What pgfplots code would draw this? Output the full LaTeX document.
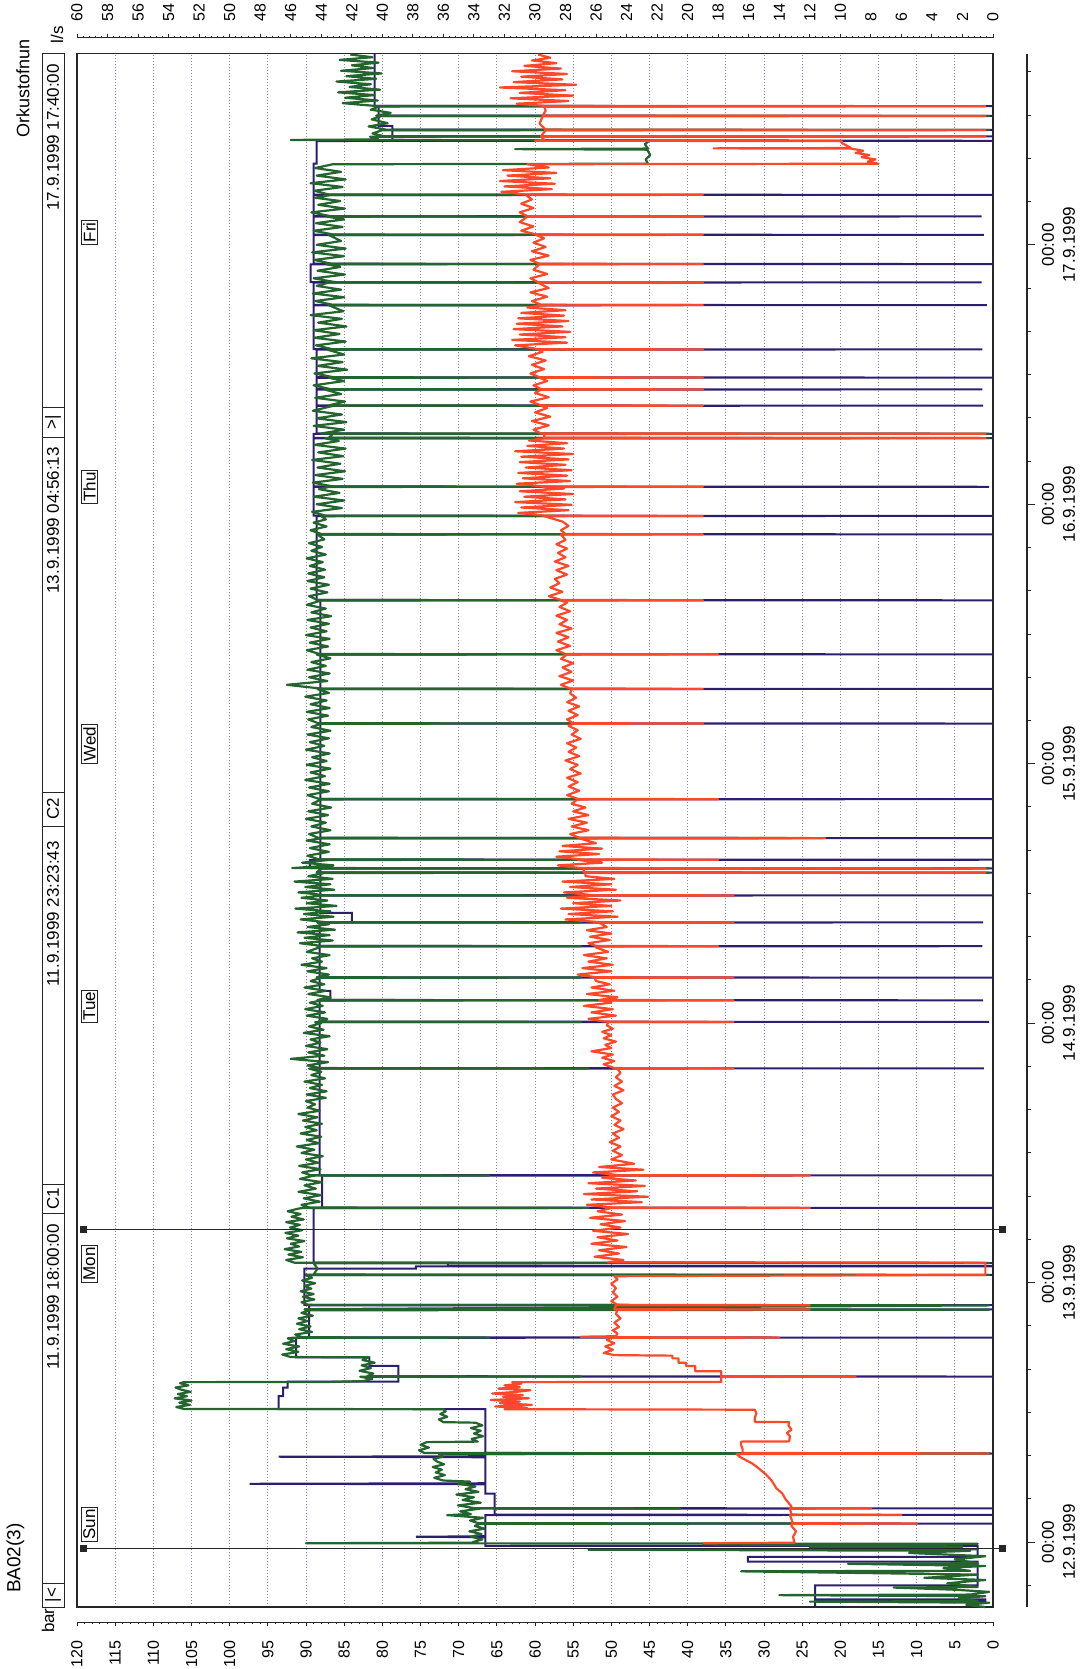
\documentclass[border=0pt]{standalone}
\usepackage{pgfplots}
\pgfplotsset{compat=1.18}
\usepackage{pgfplotstable}
\usepackage{fontspec}
\setmainfont{Liberation Sans}
\definecolor{navyc}{RGB}{46,30,112}
\definecolor{greenc}{RGB}{36,100,46}
\definecolor{redc}{RGB}{255,72,42}
\definecolor{gridc}{RGB}{150,130,160}
\newcommand{\lf}{\fontsize{8.5}{10.5}\selectfont}
\newcommand{\tf}{\fontsize{8}{9}\selectfont}

% navy: pressure set level (bar), t = hours from 12.9.1999 00:00
\pgfplotstableread[row sep=\\]{
t v\\
-6.0 23.3\\ -5.5 23.3\\ -5.5 1\\ -5.3 1\\ -5.3 23.3\\ -4.0 23.3\\ -4.0 2\\ -1.8 2\\ -1.8 32.1\\ -1.36 32.1\\ -1.36 2\\ -0.35 2\\ -0.35 66.5\\
0.45 66.5\\ 0.5 75.6\\ 0.55 66.5\\ 1.7 66.5\\ 1.72 0\\ 1.75 66.5\\ 2.5 66.5\\ 2.52 0\\ 2.55 65.3\\ 3.1 65.3\\ 3.12 0\\ 3.15 65.3\\ 4.5 65.3\\ 4.5 66.5\\
5.35 66.5\\ 5.4 97.4\\ 5.45 66.5\\ 7.85 66.5\\ 7.9 93.6\\ 7.95 66.5\\ 8.15 66.5\\ 8.2 0\\ 8.25 66.5\\ 12.3 66.5\\ 12.3 93.6\\ 13.5 93.6\\ 13.5 93.0\\
14.3 93.0\\ 14.3 92.4\\ 14.85 92.4\\ 14.85 77.9\\ 15.3 77.9\\ 15.32 0\\ 15.35 77.9\\ 16.3 77.9\\ 16.3 81.7\\ 17.1 81.7\\ 17.1 91.3\\ 18.9 91.3\\ 18.92 0\\
18.95 89.6\\ 21.5 89.6\\ 21.52 0\\ 21.55 89.6\\ 21.9 89.6\\ 21.92 0\\ 21.95 90.2\\ 24.7 90.2\\ 24.72 0\\ 24.75 90.2\\ 25.3 90.2\\ 25.3 75.6\\ 25.5 75.6\\
25.52 0\\ 25.55 71.4\\ 25.8 71.4\\ 25.82 0\\ 25.85 89.0\\ 30.9 89.0\\ 30.92 0\\ 30.95 87.9\\ 33.9 87.9\\ 33.92 0\\ 33.95 88.2\\ 43.8 88.2\\ 43.82 1.2\\
43.85 88.2\\ 48.1 88.2\\ 48.12 0.5\\ 48.15 88.2\\ 50.1 88.2\\ 50.12 1.3\\ 50.15 86.8\\ 51.0 86.8\\ 51.0 88.2\\ 52.2 88.2\\ 52.22 0\\ 52.25 88.2\\
55.1 88.2\\ 55.12 1.4\\ 55.15 88.2\\ 57.3 88.2\\ 57.32 1.3\\ 57.35 84.0\\ 58.2 84.0\\ 58.2 88.1\\ 59.8 88.1\\ 59.82 0\\ 59.85 88.1\\ 61.9 88.1\\ 61.92 0\\
61.95 88.1\\ 62.3 88.1\\ 62.32 0\\ 62.35 89.5\\ 63.1 89.5\\ 63.12 0\\ 63.15 88.1\\ 65.1 88.1\\ 65.12 0\\ 65.15 88.1\\ 68.7 88.1\\ 68.72 0\\ 68.75 88.1\\
75.7 88.1\\ 75.72 0\\ 75.75 88.1\\ 78.9 88.1\\ 78.92 0\\ 78.95 88.1\\ 82.1 88.1\\ 82.12 0\\ 82.15 88.1\\ 87.1 88.1\\ 87.12 0\\ 87.15 88.6\\ 93.2 88.6\\
93.22 0\\ 93.25 88.6\\ 94.9 88.6\\ 94.92 0\\ 94.95 89.0\\ 97.6 89.0\\ 97.62 0.5\\ 97.65 89.0\\ 102.1 89.0\\ 102.12 0\\ 102.15 89.0\\ 102.5 89.0\\
102.52 0\\ 102.55 88.6\\ 105.1 88.6\\ 105.12 1.3\\ 105.15 88.6\\ 106.6 88.6\\ 106.62 1.4\\ 106.65 88.6\\ 107.7 88.6\\ 107.72 0\\ 107.75 88.6\\
110.3 88.6\\ 110.32 1.4\\ 110.35 89.0\\ 114.4 89.0\\ 114.42 0.8\\ 114.45 89.0\\ 116.5 89.0\\ 116.52 1.5\\ 116.55 89.4\\ 118.2 89.4\\ 118.22 0\\
118.25 89.0\\ 120.9 89.0\\ 120.92 1.2\\ 120.95 89.0\\ 122.6 89.0\\ 122.62 1.5\\ 122.65 89.0\\ 124.6 89.0\\ 124.62 0\\ 124.65 89.0\\ 127.5 89.0\\
127.5 88.6\\ 129.6 88.6\\ 129.62 0\\ 129.7 78.7\\ 130.0 78.7\\ 130.02 0\\ 130.05 78.7\\ 130.6 78.7\\ 130.62 0\\ 130.65 78.7\\ 131.0 78.7\\ 131.0 80.5\\
131.9 80.5\\ 131.92 0\\ 131.95 80.5\\ 132.8 80.5\\ 132.82 0\\ 132.85 81.0\\ 137.667 81.0\\
}\navydata

% green: measured pressure (bar)
\pgfplotstableread[row sep=\\]{
t v\\
-6.0 1.0\\ -5.8 3.5\\ -5.6 0.5\\ -5.5 24\\ -5.45 2\\ -5.2 4.5\\ -5.0 1\\ -4.9 28\\ -4.85 3\\ -4.6 0.5\\ -4.4 5\\ -4.2 13\\ -4.15 2\\ -3.8 6\\ -3.5 1\\
-3.3 9\\ -3.0 2\\ -2.7 33\\ -2.65 3\\ -2.4 6.5\\ -2.2 1\\ -2.0 19\\ -1.95 2\\ -1.6 5\\ -1.3 1\\ -1.0 11\\ -0.8 3\\ -0.7 53\\ -0.65 2\\ -0.5 24\\ -0.4 4\\
-0.2 38\\ -0.15 2\\ -0.1 90\\ -0.05 67.5\\
0.0 68.2\\ 0.25 66.9\\ 0.5 68.4\\ 0.75 67.0\\ 1.0 68.6\\ 1.25 66.6\\ 1.5 67.9\\ 1.7 67.2\\ 1.72 20\\ 1.75 67.4\\ 2.0 68.5\\ 2.25 66.8\\ 2.5 71.5\\ 2.6 68.4\\
2.85 69.8\\ 3.1 67.2\\ 3.12 41\\ 3.15 68.0\\ 3.4 70.1\\ 3.65 67.1\\ 3.9 69.5\\ 4.15 68.0\\ 4.4 70.3\\ 4.65 67.4\\ 4.9 69.1\\ 5.15 67.8\\ 5.4 70.0\\ 5.6 68.5\\
5.7 72.0\\ 5.95 73.2\\ 6.2 71.8\\ 6.45 73.0\\ 6.7 72.2\\ 6.95 73.4\\ 7.2 71.9\\ 7.45 72.8\\ 7.7 73.3\\ 7.9 72.1\\ 8.15 72.6\\ 8.2 0.5\\ 8.25 74.5\\
8.5 75.2\\ 8.75 73.9\\ 9.0 75.0\\ 9.25 74.2\\ 9.3 67.5\\ 9.55 68.3\\ 9.8 66.8\\ 10.05 68.0\\ 10.3 67.1\\ 10.55 68.4\\ 10.8 66.9\\ 11.05 67.8\\ 11.1 72\\
11.35 72.6\\ 11.6 71.5\\ 11.85 72.4\\ 12.1 71.7\\ 12.3 72.0\\ 12.32 106\\
12.5 107.0\\ 12.7 105.2\\ 12.9 106.6\\ 13.1 105.0\\ 13.3 107.2\\ 13.5 105.6\\ 13.7 106.8\\ 13.9 105.1\\ 14.1 106.3\\ 14.3 107.1\\ 14.5 105.4\\ 14.7 106.5\\
14.8 106.0\\ 14.82 87\\ 14.9 82.5\\
15.1 81.3\\ 15.3 82.9\\ 15.32 54\\ 15.35 82.0\\ 15.6 81.2\\ 15.85 83.0\\ 16.1 81.5\\ 16.35 82.7\\ 16.6 81.0\\ 16.85 82.6\\ 17.1 81.8\\ 17.12 92\\
17.35 93.1\\ 17.6 91.0\\ 17.85 92.6\\ 18.1 90.9\\ 18.35 93.0\\ 18.6 91.5\\ 18.85 92.4\\ 18.9 91.8\\ 18.92 66\\ 18.95 90.5\\
19.2 91.4\\ 19.45 89.2\\ 19.7 90.9\\ 19.95 89.4\\ 20.2 91.2\\ 20.45 89.8\\ 20.7 91.0\\ 20.95 89.1\\ 21.2 90.6\\ 21.45 89.5\\ 21.5 0.5\\ 21.55 90.2\\
21.9 0.5\\ 21.95 89.7\\
22.2 90.6\\ 22.45 88.9\\ 22.7 90.4\\ 22.95 89.0\\ 23.2 90.7\\ 23.45 89.3\\ 23.7 90.2\\ 23.95 88.8\\ 24.2 90.5\\ 24.45 89.2\\ 24.7 90.0\\ 24.72 0.5\\
24.75 89.0\\ 25.3 88.5\\ 25.8 89.0\\ 25.82 0.5\\ 25.85 91.5\\
26.1 92.6\\ 26.35 90.4\\ 26.6 92.3\\ 26.85 90.6\\ 27.1 92.8\\ 27.35 90.9\\ 27.6 92.0\\ 27.85 90.2\\ 28.1 92.5\\ 28.35 91.0\\ 28.6 92.7\\ 28.85 90.5\\
29.1 92.1\\ 29.35 90.8\\ 29.6 92.6\\ 29.85 90.3\\ 30.1 91.9\\ 30.35 90.7\\ 30.6 92.4\\ 30.85 91.0\\ 30.9 90.5\\ 30.92 53\\ 30.95 89.5\\
31.2 90.6\\ 31.5 88.2\\ 31.8 90.3\\ 32.1 88.0\\ 32.4 91.0\\ 32.7 88.7\\ 33.0 90.2\\ 33.3 87.9\\ 33.6 90.8\\ 33.9 89.0\\ 33.92 66\\ 33.95 89.4\\
34.2 90.5\\ 34.5 88.1\\ 34.8 90.9\\ 35.1 88.4\\ 35.4 90.0\\ 35.7 87.8\\ 36.0 90.6\\ 36.3 88.9\\ 36.6 91.2\\ 36.9 88.3\\ 37.2 89.9\\ 37.5 88.0\\
37.8 90.7\\ 38.1 88.6\\ 38.4 90.1\\ 38.7 87.9\\ 39.0 90.4\\ 39.3 88.5\\ 39.6 91.0\\ 39.9 88.2\\ 40.2 89.8\\ 40.5 88.8\\
40.8 90.0\\ 41.1 87.4\\ 41.4 89.9\\ 41.7 87.3\\ 42.0 89.5\\ 42.3 87.9\\ 42.6 90.2\\ 42.9 87.5\\ 43.2 89.3\\ 43.5 88.0\\ 43.8 89.6\\ 43.82 53\\
43.85 88.2\\ 44.1 89.8\\ 44.4 87.1\\ 44.7 92.0\\ 45.0 87.6\\ 45.3 89.7\\ 45.6 87.2\\ 45.9 90.0\\ 46.2 88.1\\ 46.5 89.4\\ 46.8 86.9\\ 47.1 90.3\\
47.4 87.7\\ 47.7 89.6\\ 48.0 88.0\\ 48.1 88.8\\ 48.12 54\\ 48.15 88.4\\ 48.4 87.2\\ 48.7 89.9\\ 49.0 87.5\\ 49.3 90.1\\ 49.6 87.8\\ 49.9 89.5\\
50.1 88.0\\ 50.12 51\\ 50.15 88.5\\ 50.4 86.8\\ 50.7 89.7\\ 51.0 87.4\\ 51.3 90.2\\ 51.6 87.6\\ 51.9 89.4\\ 52.2 88.0\\ 52.22 54\\ 52.25 88.6\\
52.5 87.0\\ 52.8 89.8\\ 53.1 87.3\\ 53.4 90.6\\ 53.7 87.9\\ 54.0 89.2\\ 54.3 86.9\\ 54.6 89.9\\ 55.0 88.3\\ 55.1 88.5\\ 55.12 54\\ 55.15 88.0\\
55.4 90.8\\ 55.65 86.5\\ 55.9 90.2\\ 56.15 86.9\\ 56.4 91.1\\ 56.65 86.2\\ 56.9 89.8\\ 57.15 87.0\\ 57.3 88.5\\ 57.32 54\\ 57.35 87.5\\ 57.6 90.7\\
57.85 86.4\\ 58.1 90.3\\ 58.35 86.8\\ 58.6 91.4\\ 58.85 86.0\\ 59.1 89.9\\ 59.35 87.2\\ 59.6 90.6\\ 59.8 88.0\\ 59.82 54\\ 59.85 87.6\\ 60.1 91.0\\
60.35 86.3\\ 60.6 90.1\\ 60.85 86.8\\ 61.1 91.5\\ 61.35 86.5\\ 61.6 89.7\\ 61.9 87.5\\ 61.92 0.5\\ 61.95 88.6\\ 62.3 88.0\\ 62.32 0.5\\ 62.35 91.8\\
62.6 86.4\\ 62.85 90.5\\ 63.1 87.0\\ 63.12 54\\ 63.15 88.3\\
63.5 89.8\\ 63.85 87.0\\ 64.2 89.5\\ 64.55 86.9\\ 64.9 89.9\\ 65.1 88.0\\ 65.12 22.5\\ 65.15 88.4\\ 65.5 89.6\\ 65.85 86.8\\ 66.2 89.3\\ 66.55 87.4\\
66.9 90.0\\ 67.25 87.1\\ 67.6 89.7\\ 67.95 86.7\\ 68.3 89.2\\ 68.7 88.0\\ 68.72 54\\ 68.75 88.3\\ 69.1 89.8\\ 69.45 87.0\\ 69.8 89.6\\ 70.15 86.9\\
70.5 90.1\\ 70.85 87.5\\ 71.2 89.4\\ 71.55 86.8\\ 71.9 89.9\\ 72.25 87.3\\ 72.6 89.2\\ 72.95 86.9\\ 73.3 90.0\\ 73.65 87.6\\ 74.0 89.5\\ 74.35 87.0\\
74.7 89.8\\ 75.05 86.8\\ 75.4 89.3\\ 75.7 88.0\\ 75.72 54\\ 75.75 88.4\\ 76.1 89.7\\ 76.45 87.1\\ 76.8 89.9\\ 77.15 86.9\\ 77.5 89.4\\ 77.85 87.3\\
78.2 90.1\\ 78.55 87.0\\ 78.9 88.5\\ 78.92 55\\ 78.95 88.0\\ 79.3 92.5\\ 79.65 87.2\\ 80.0 89.6\\ 80.35 86.9\\ 80.7 89.8\\ 81.05 87.4\\ 81.4 89.3\\
81.75 86.8\\ 82.1 88.6\\ 82.12 54\\ 82.15 88.2\\ 82.5 89.9\\ 82.85 87.1\\ 83.2 89.5\\ 83.55 86.9\\ 83.9 90.0\\ 84.25 87.3\\ 84.6 89.4\\ 84.95 87.0\\
85.3 89.8\\ 85.65 86.7\\ 86.0 89.3\\ 86.35 87.4\\ 86.7 89.9\\ 87.1 88.0\\ 87.12 57\\ 87.15 88.5\\ 87.5 89.6\\ 87.85 87.2\\ 88.2 89.4\\ 88.55 87.0\\
88.9 89.8\\ 89.25 87.6\\ 89.6 89.7\\ 89.95 87.5\\ 90.3 89.5\\ 90.65 87.8\\ 91.0 89.9\\ 91.35 87.4\\ 91.7 89.3\\ 92.05 87.9\\ 92.4 89.6\\ 92.75 87.6\\
93.2 88.5\\ 93.22 56\\ 93.25 88.0\\ 93.6 89.4\\ 93.95 87.3\\ 94.3 89.0\\ 94.6 87.4\\ 94.9 88.0\\ 94.92 56\\ 94.95 87.5\\
95.3 89.2\\ 95.65 85.3\\ 96.0 88.6\\ 96.35 85.0\\ 96.7 89.0\\ 97.05 85.6\\ 97.4 88.3\\ 97.6 87.0\\ 97.62 58\\ 97.65 86.5\\ 98.0 89.1\\ 98.35 85.2\\
98.7 88.8\\ 99.05 84.9\\ 99.4 88.5\\ 99.75 85.5\\ 100.1 89.2\\ 100.45 85.1\\ 100.8 88.4\\ 101.15 84.8\\ 101.5 88.9\\ 101.85 85.7\\ 102.1 87.5\\
102.12 0.5\\ 102.15 87.0\\ 102.5 86.5\\ 102.52 0.5\\ 102.55 88.0\\ 102.9 85.0\\ 103.25 89.0\\ 103.6 84.7\\ 103.95 88.6\\ 104.3 85.3\\ 104.65 89.1\\
105.1 86.5\\ 105.12 56\\ 105.15 87.0\\ 105.5 84.9\\ 105.85 88.8\\ 106.2 85.4\\ 106.6 87.5\\ 106.62 56\\ 106.65 86.8\\ 107.0 89.0\\ 107.4 85.0\\
107.7 87.0\\ 107.72 56\\ 107.75 86.4\\ 108.1 88.9\\ 108.45 84.6\\ 108.8 88.5\\ 109.15 85.2\\ 109.5 89.3\\ 109.85 85.0\\ 110.3 87.2\\ 110.32 56\\
110.35 86.6\\ 110.7 88.7\\ 111.05 84.8\\ 111.4 88.9\\ 111.75 85.6\\ 112.1 89.0\\ 112.45 84.7\\ 112.8 88.4\\ 113.15 85.3\\ 113.5 89.4\\ 113.85 85.1\\
114.4 87.0\\ 114.42 55\\ 114.45 86.5\\ 114.8 88.8\\ 115.15 85.0\\ 115.5 89.1\\ 115.85 85.4\\ 116.2 88.6\\ 116.5 87.0\\ 116.52 56\\ 116.55 86.2\\
116.9 89.0\\ 117.25 84.9\\ 117.6 88.5\\ 117.95 85.5\\ 118.2 87.3\\ 118.22 56\\ 118.25 86.7\\ 118.6 88.9\\ 118.95 85.0\\ 119.3 89.2\\ 119.65 84.8\\
120.0 88.6\\ 120.35 85.4\\ 120.9 87.0\\ 120.92 56\\ 120.95 86.4\\ 121.3 89.0\\ 121.65 85.2\\ 122.0 88.7\\ 122.35 85.0\\ 122.6 87.2\\ 122.62 56\\
122.65 86.8\\ 123.0 89.3\\ 123.35 84.9\\ 123.7 88.4\\ 124.05 85.5\\ 124.35 88.8\\ 124.6 86.8\\ 124.62 56\\ 124.65 87.0\\ 125.0 88.9\\ 125.35 85.2\\
125.7 89.4\\ 126.05 84.8\\ 126.4 88.6\\ 126.75 85.4\\ 127.1 88.8\\ 127.45 86.5\\ 127.5 45.2\\
127.9 45.5\\ 128.3 44.9\\ 128.8 45.3\\ 128.85 62.6\\ 128.9 45.2\\ 129.3 45.6\\ 129.65 45.0\\ 129.7 92\\ 129.75 80.5\\
130.0 81.6\\ 130.02 30\\ 130.05 79.8\\ 130.3 81.3\\ 130.6 80.0\\ 130.62 0.5\\ 130.65 79.5\\ 130.95 81.8\\ 131.25 79.3\\ 131.6 81.4\\ 131.9 80.2\\
131.92 0.5\\ 131.95 80.8\\ 132.2 78.9\\ 132.5 81.5\\ 132.8 80.4\\ 132.82 40\\ 132.85 81.0\\
133.1 85.2\\ 133.35 80.6\\ 133.6 84.9\\ 133.85 81.0\\ 134.1 85.8\\ 134.35 80.3\\ 134.6 84.3\\ 134.85 81.5\\ 135.1 86.0\\ 135.35 80.8\\ 135.6 84.7\\
135.85 80.1\\ 136.1 85.4\\ 136.35 81.2\\ 136.6 84.0\\ 136.85 80.5\\ 137.1 85.6\\ 137.35 81.3\\ 137.6 84.2\\
}\greendata

% red: flow (l/s)
\pgfplotstableread[row sep=\\]{
t v\\
-0.1 19\\ -0.05 13.0\\ 0.5 13.1\\ 1.0 12.9\\ 1.5 13.2\\ 1.7 13.2\\ 1.72 5\\ 1.75 13.1\\ 2.5 13.3\\ 2.52 6\\ 2.55 13.2\\ 3.1 13.3\\ 3.12 8\\ 3.15 13.3\\
3.3 13.2\\ 4.0 13.6\\ 4.5 13.8\\ 5.0 14.2\\ 5.7 14.5\\ 6.3 14.9\\ 7.0 15.5\\ 7.3 15.8\\ 7.6 16.2\\ 7.9 16.6\\ 8.15 16.8\\ 8.2 0.3\\ 8.25 16.4\\
8.6 16.4\\ 9.0 16.5\\ 9.3 16.5\\ 9.32 13.35\\ 9.8 13.3\\ 10.1 13.5\\ 10.4 13.2\\ 10.8 13.4\\ 11.1 13.35\\ 11.12 15.6\\ 11.5 15.6\\ 11.9 15.5\\
12.25 15.6\\ 12.3 32\\
12.4 30.5\\ 12.55 32.6\\ 12.7 30.2\\ 12.85 32.3\\ 13.0 31.0\\ 13.15 32.9\\ 13.3 30.4\\ 13.45 32.1\\ 13.6 30.8\\ 13.75 32.8\\ 13.9 31.2\\ 14.05 30.3\\
14.2 32.4\\ 14.35 31.0\\ 14.5 32.0\\ 14.65 30.9\\ 14.8 31.5\\ 14.82 17.8\\ 15.3 17.8\\ 15.32 9\\ 15.35 17.8\\ 15.8 17.8\\ 15.8 19.5\\ 16.3 19.5\\
16.3 20.1\\ 16.6 20.1\\ 16.6 20.6\\ 17.0 20.6\\ 17.0 21.0\\ 17.25 21.0\\ 17.3 24.8\\
17.5 25.5\\ 17.8 24.9\\ 18.1 25.4\\ 18.4 24.8\\ 18.7 25.3\\ 18.9 25.0\\ 18.92 14\\ 18.95 25.0\\ 19.0 27\\ 19.05 24.7\\ 19.3 24.6\\ 19.6 24.9\\
19.9 24.5\\ 20.3 24.8\\ 20.7 24.4\\ 21.1 24.7\\ 21.5 24.6\\ 21.52 12\\ 21.55 24.8\\ 21.9 24.7\\ 21.92 12\\ 21.95 24.6\\ 22.3 25.0\\ 22.7 24.6\\
23.1 24.9\\ 23.5 24.7\\ 23.9 25.0\\ 24.3 24.6\\ 24.6 24.8\\ 24.72 0.5\\ 25.85 0.5\\ 25.9 25.2\\
26.1 24.2\\ 26.4 26.1\\ 26.7 24.5\\ 27.0 25.8\\ 27.3 24.0\\ 27.6 26.3\\ 27.9 24.6\\ 28.2 25.9\\ 28.5 23.9\\ 28.8 26.2\\ 29.1 24.4\\ 29.4 25.7\\
29.7 24.1\\ 30.0 26.4\\ 30.3 24.3\\ 30.6 25.9\\ 30.9 25.0\\ 30.92 12\\ 30.95 25.0\\
31.2 26.6\\ 31.45 23.0\\ 31.7 26.3\\ 31.95 22.6\\ 32.2 26.8\\ 32.45 23.3\\ 32.7 26.0\\ 32.95 22.8\\ 33.2 26.5\\ 33.45 23.4\\ 33.7 25.6\\ 33.9 24.6\\
33.92 12\\ 33.95 24.5\\ 34.2 26.2\\ 34.45 22.9\\ 34.7 25.8\\ 35.0 23.5\\
35.4 25.0\\ 35.8 24.3\\ 36.2 24.9\\ 36.6 24.4\\ 37.0 25.1\\ 37.4 24.5\\ 37.8 24.9\\ 38.2 24.2\\ 38.6 24.8\\ 39.0 24.4\\ 39.4 25.0\\ 39.8 24.5\\
40.2 24.9\\ 40.6 24.3\\ 41.0 24.7\\ 41.4 24.9\\ 41.8 24.2\\ 42.2 24.8\\ 42.6 24.3\\ 43.0 24.7\\ 43.4 24.4\\ 43.8 24.6\\ 43.82 17\\ 43.85 24.8\\
44.2 25.5\\ 44.5 24.8\\ 44.8 25.6\\ 45.1 24.9\\ 45.4 26.3\\ 45.7 25.0\\ 46.0 25.4\\ 46.3 24.7\\ 46.6 25.5\\ 46.9 25.0\\ 47.2 25.6\\ 47.5 24.9\\
47.8 25.3\\ 48.1 25.2\\ 48.12 17\\ 48.15 25.4\\ 48.4 26.5\\ 48.7 24.7\\ 49.0 26.3\\ 49.3 24.9\\ 49.6 26.8\\ 49.9 25.0\\ 50.1 25.6\\ 50.12 17\\
50.15 25.8\\ 50.4 24.6\\ 50.7 26.6\\ 51.0 24.8\\ 51.3 26.3\\ 51.6 25.1\\ 51.9 26.0\\ 52.2 26.1\\ 52.22 17\\ 52.25 26.0\\ 52.5 27.2\\ 52.8 25.0\\
53.1 26.9\\ 53.4 24.9\\ 53.7 26.5\\ 54.0 25.3\\ 54.3 26.8\\ 54.6 25.2\\ 55.0 26.0\\ 55.1 26.0\\ 55.12 18\\ 55.15 26.0\\ 55.4 26.5\\ 55.7 25.1\\
56.0 26.4\\ 56.3 25.0\\ 56.6 26.6\\ 56.9 25.3\\ 57.3 25.8\\ 57.32 17\\ 57.35 25.8\\ 57.6 28.0\\ 57.85 24.6\\ 58.1 27.8\\ 58.35 24.9\\ 58.6 28.3\\
58.85 25.0\\ 59.1 27.5\\ 59.35 24.4\\ 59.6 27.9\\ 59.8 26.3\\ 59.82 17\\ 59.85 26.2\\ 60.1 28.1\\ 60.35 24.7\\ 60.6 27.7\\ 60.85 25.0\\ 61.1 28.2\\
61.35 24.8\\ 61.6 26.7\\ 61.9 26.7\\ 61.92 0.5\\ 61.95 26.8\\ 62.3 26.8\\ 62.32 0.5\\ 62.35 27.0\\ 62.6 28.5\\ 62.85 25.6\\ 63.1 27.2\\ 63.12 18\\
63.15 27.0\\ 63.4 28.6\\ 63.65 25.8\\ 63.9 28.4\\ 64.15 25.6\\ 64.4 28.2\\ 64.65 26.0\\ 65.1 27.1\\ 65.12 11\\ 65.15 27.1\\ 65.5 27.7\\ 65.85 26.5\\
66.2 27.6\\ 66.55 26.6\\ 66.9 27.8\\ 67.25 26.5\\ 67.6 27.5\\ 67.95 26.7\\ 68.3 27.6\\ 68.7 27.2\\ 68.72 18\\ 68.75 27.2\\ 69.1 27.9\\ 69.5 27.1\\
69.9 27.8\\ 70.3 27.2\\ 70.7 27.9\\ 71.1 27.0\\ 71.5 27.7\\ 71.9 27.2\\ 72.3 28.0\\ 72.7 27.1\\ 73.1 27.8\\ 73.5 27.3\\ 73.9 27.9\\ 74.3 27.0\\
74.7 27.6\\ 75.1 27.2\\ 75.5 27.8\\ 75.7 27.5\\ 75.72 19\\ 75.75 27.5\\ 76.1 27.9\\ 76.5 27.2\\ 76.9 27.8\\ 77.3 27.1\\ 77.7 27.9\\ 78.1 27.3\\
78.5 27.7\\ 78.9 27.6\\ 78.92 19\\ 78.95 27.7\\ 79.3 28.3\\ 79.7 27.5\\ 80.1 28.4\\ 80.5 27.6\\ 80.9 28.2\\ 81.3 27.5\\ 81.7 28.3\\ 82.1 27.9\\
82.12 18\\ 82.15 28.0\\ 82.5 28.6\\ 82.9 27.7\\ 83.3 28.5\\ 83.7 27.8\\ 84.1 28.6\\ 84.5 27.6\\ 84.9 28.4\\ 85.3 27.9\\ 85.7 28.6\\ 86.1 27.7\\
86.5 28.4\\ 86.9 27.9\\ 87.1 28.3\\ 87.12 19\\ 87.15 28.3\\ 87.5 29.1\\ 87.9 28.2\\ 88.3 29.0\\ 88.7 28.4\\ 89.1 28.7\\ 89.5 27.9\\ 89.9 28.6\\
90.3 27.8\\ 90.7 28.7\\ 91.1 28.0\\ 91.5 28.5\\ 91.9 27.9\\ 92.3 28.6\\ 92.7 28.0\\ 93.2 28.3\\ 93.22 19\\ 93.25 28.0\\ 93.6 28.3\\ 94.0 27.8\\
94.4 28.2\\ 94.9 29.4\\ 94.92 19\\ 94.95 29.4\\ 95.2 31.1\\ 95.45 27.8\\ 95.7 30.9\\ 95.95 27.6\\ 96.2 31.3\\ 96.45 28.0\\ 96.7 30.7\\ 96.95 27.5\\
97.2 31.0\\ 97.45 28.1\\ 97.6 29.5\\ 97.62 19\\ 97.65 29.5\\ 97.9 31.2\\ 98.15 27.7\\ 98.4 30.8\\ 98.65 27.9\\ 98.9 31.1\\ 99.15 27.6\\ 99.4 30.6\\
99.65 28.0\\ 99.9 31.0\\ 100.15 27.8\\ 100.4 30.9\\ 100.65 27.5\\ 100.9 31.3\\ 101.15 28.1\\ 101.4 30.5\\ 101.65 27.9\\ 101.9 30.4\\ 102.1 29.4\\
102.12 0.5\\ 102.15 29.4\\ 102.5 29.4\\ 102.52 0.5\\ 102.55 29.6\\ 102.9 30.1\\ 103.3 29.1\\ 103.7 30.2\\ 104.1 29.0\\ 104.5 30.0\\ 104.9 29.2\\
105.1 29.6\\ 105.12 19\\ 105.15 29.6\\ 105.5 30.3\\ 105.9 29.1\\ 106.3 30.0\\ 106.6 29.6\\ 106.62 19\\ 106.65 29.6\\ 107.0 30.1\\ 107.4 29.2\\
107.7 29.7\\ 107.72 19\\ 107.75 29.7\\ 108.1 30.3\\ 108.5 29.4\\ 108.9 30.2\\ 109.3 29.3\\ 109.7 30.4\\ 110.1 29.5\\ 110.3 29.8\\ 110.32 19\\
110.35 29.8\\ 110.7 31.3\\ 110.95 27.9\\ 111.2 31.5\\ 111.45 28.0\\ 111.7 31.0\\ 111.95 27.7\\ 112.2 31.4\\ 112.45 28.2\\ 112.7 31.2\\ 112.95 27.8\\
113.2 31.1\\ 113.45 28.1\\ 113.7 30.9\\ 113.95 28.0\\ 114.2 30.5\\ 114.4 29.6\\ 114.42 19\\ 114.45 29.6\\ 114.8 30.2\\ 115.2 29.2\\ 115.6 30.3\\
116.0 29.1\\ 116.5 29.8\\ 116.52 19\\ 116.55 29.8\\ 116.9 30.3\\ 117.3 29.2\\ 117.7 30.1\\ 118.2 29.7\\ 118.22 19\\ 118.25 29.7\\ 118.6 30.3\\
119.0 29.1\\ 119.4 30.2\\ 119.8 29.3\\ 120.2 30.1\\ 120.6 29.4\\ 120.9 29.9\\ 120.92 19\\ 120.95 29.9\\ 121.3 30.9\\ 121.7 30.1\\ 122.1 31.0\\
122.6 30.5\\ 122.62 19\\ 122.65 30.5\\ 123.0 31.0\\ 123.4 30.1\\ 123.8 30.9\\ 124.2 30.2\\ 124.6 30.6\\ 124.62 19\\ 124.65 30.6\\ 124.9 32.2\\
125.15 28.9\\ 125.4 32.0\\ 125.65 28.7\\ 125.9 32.3\\ 126.15 29.0\\ 126.4 31.8\\ 126.65 28.6\\ 126.9 32.1\\ 127.15 29.1\\ 127.45 30.5\\ 127.5 7.5\\
127.7 8.2\\ 127.9 7.7\\ 128.1 8.6\\ 128.3 8.1\\ 128.5 9.0\\ 128.7 8.5\\ 128.9 9.3\\ 128.92 18.3\\ 128.95 9.3\\ 129.2 9.6\\ 129.4 9.9\\ 129.6 9.9\\
129.62 30\\ 129.7 29.4\\ 130.0 29.6\\ 130.02 0.5\\ 130.05 29.6\\ 130.6 29.3\\ 130.62 0.5\\ 130.65 29.3\\ 131.2 29.7\\ 131.9 29.5\\ 131.92 0.5\\
131.95 29.5\\ 132.4 29.3\\ 132.8 29.4\\ 132.82 0.5\\ 132.85 29.4\\ 133.05 31.2\\ 133.3 27.8\\ 133.55 31.6\\ 133.8 27.5\\ 134.05 31.0\\ 134.3 28.0\\
134.55 32.3\\ 134.8 27.3\\ 135.05 31.4\\ 135.3 28.2\\ 135.55 30.9\\ 135.8 27.9\\ 136.05 31.5\\ 136.3 28.3\\ 136.55 30.7\\ 136.8 28.6\\ 137.05 30.2\\
137.3 29.0\\ 137.6 29.8\\
}\reddata

\begin{document}
\begin{tikzpicture}
\path[use as bounding box] (0pt,0pt) rectangle (542pt,-834.5pt);

% main axis (bar)
\begin{axis}[
  at={(38.5pt,-803.5pt)}, anchor=south west,
  scale only axis, width=458pt, height=776.6pt,
  xmin=0, xmax=120, x dir=reverse,
  ymin=-6, ymax=137.667,
  xtick={5,10,...,115}, xticklabels={}, major tick length=0pt,
  ytick=\empty,
  xmajorgrids, grid style={gridc, line width=0.45pt, dash pattern=on 0.5pt off 1pt},
  axis line style={black!85, line width=0.6pt},
  clip=false,
]
\addplot[navyc, line width=1.0pt] table[x=v, y=t] {\navydata};
\addplot[greenc, line width=1.1pt, line join=round] table[x=v, y=t] {\greendata};
\addplot[black!85, line width=0.5pt, mark=square*, mark size=1.5pt, mark options={fill=black!85}] coordinates {(119.1,-0.605) (-1.3,-0.605)};
\addplot[black!85, line width=0.5pt, mark=square*, mark size=1.5pt, mark options={fill=black!85}] coordinates {(119.1,28.937) (-1.3,28.937)};
\foreach \d/\n in {0/Sun,24/Mon,48/Tue,72/Wed,96/Thu,120/Fri}{
  \edef\temp{\noexpand\node[rotate=90, anchor=north west, draw=black!85, line width=0.5pt, inner sep=1pt, font=\noexpand\lf] at (axis cs:119.5,\d) {\n};}
  \temp
}
\end{axis}

% red (l/s) on the same frame
\begin{axis}[
  at={(38.5pt,-803.5pt)}, anchor=south west,
  scale only axis, width=458pt, height=776.6pt,
  xmin=0, xmax=60, x dir=reverse,
  ymin=-6, ymax=137.667,
  hide axis, clip=false,
]
\addplot[redc, line width=1.1pt, line join=round] table[x=v, y=t] {\reddata};
\end{axis}

% bar ruler (bottom)
\begin{axis}[
  at={(38.5pt,-811pt)}, anchor=south west,
  scale only axis, width=458pt, height=10pt,
  xmin=0, xmax=120, x dir=reverse, ymin=0, ymax=1,
  axis x line=bottom, axis y line=none,
  axis line style={-, black!85, line width=0.5pt},
  xtick={0,5,...,120}, minor x tick num=4,
  tick align=outside, major tick length=2.2pt, minor tick length=1.2pt,
  tick style={black!85, line width=0.45pt},
  /pgf/number format/assume math mode=true,
  xticklabel style={rotate=90, anchor=east, font=\tf},
  xticklabel shift=3.5pt,
]
\end{axis}

% l/s ruler (top)
\begin{axis}[
  at={(38.5pt,-19pt)}, anchor=north west,
  scale only axis, width=458pt, height=10pt,
  xmin=0, xmax=60, x dir=reverse, ymin=0, ymax=1,
  axis x line=top, axis y line=none,
  axis line style={-, black!85, line width=0.5pt},
  xtick={0,2,...,60}, minor x tick num=4,
  tick align=outside, major tick length=2.2pt, minor tick length=1.2pt,
  tick style={black!85, line width=0.45pt},
  /pgf/number format/assume math mode=true,
  xticklabel style={rotate=90, anchor=west, font=\tf},
  xticklabel shift=2.5pt,
]
\end{axis}

% time ruler (right)
\begin{axis}[
  at={(513.5pt,-803.5pt)}, anchor=south east,
  scale only axis, width=10pt, height=776.6pt,
  xmin=0, xmax=1, ymin=-6, ymax=137.667,
  axis y line=right, axis x line=none,
  axis line style={-, black!85, line width=0.6pt},
  ytick={0,24,48,72,96,120},
  minor ytick={-4,0,...,136},
  yticklabels={{00:00\\12.9.1999},{00:00\\13.9.1999},{00:00\\14.9.1999},{00:00\\15.9.1999},{00:00\\16.9.1999},{00:00\\17.9.1999}},
  tick align=outside, major tick length=4pt, minor tick length=2.2pt,
  tick style={black!85, line width=0.5pt},
  yticklabel style={rotate=90, anchor=north, align=center, font=\lf},
]
\end{axis}

% header strip
\draw[black!85, line width=0.5pt] (21pt,-27pt) rectangle (32pt,-803.5pt);
\draw[black!85, line width=0.5pt] (21pt,-203.5pt) -- (32pt,-203.5pt) (21pt,-218.5pt) -- (32pt,-218.5pt);
\draw[black!85, line width=0.5pt] (21pt,-396pt) -- (32pt,-396pt) (21pt,-413pt) -- (32pt,-413pt);
\draw[black!85, line width=0.5pt] (21pt,-592pt) -- (32pt,-592pt) (21pt,-606.5pt) -- (32pt,-606.5pt);
\draw[black!85, line width=0.5pt] (21pt,-791.5pt) -- (32pt,-791.5pt);
\node[rotate=90, font=\lf] at (26.5pt,-211pt) {>|};
\node[rotate=90, font=\lf] at (26.5pt,-404.5pt) {C2};
\node[rotate=90, font=\lf] at (26.5pt,-599.3pt) {C1};
\node[rotate=90, font=\lf] at (26.5pt,-797.5pt) {|<};
\node[rotate=90, anchor=east, font=\lf] at (26.5pt,-28.5pt) {17.9.1999 17:40:00};
\node[rotate=90, anchor=east, font=\lf] at (26.5pt,-220pt) {13.9.1999 04:56:13};
\node[rotate=90, anchor=east, font=\lf] at (26.5pt,-417pt) {11.9.1999 23:23:43};
\node[rotate=90, anchor=east, font=\lf] at (26.5pt,-608.5pt) {11.9.1999 18:00:00};
% titles
\node[rotate=90, anchor=west, font=\fontsize{9.5}{11}\selectfont] at (7.75pt,-800pt) {BA02(3)};
\node[rotate=90, anchor=east, font=\fontsize{9}{11}\selectfont] at (11.5pt,-16pt) {Orkustofnun};
\node[rotate=90, anchor=east, font=\lf] at (28.5pt,-9.5pt) {l/s};
\node[rotate=90, anchor=west, font=\lf] at (24pt,-820pt) {bar};
\end{tikzpicture}
\end{document}
